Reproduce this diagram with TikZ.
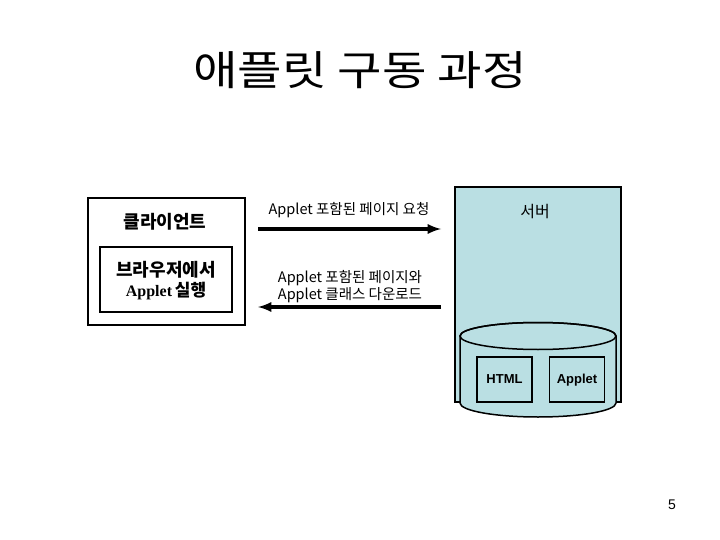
\documentclass[tikz,border=0pt]{standalone}
\usepackage{fontspec}
\setmainfont{Liberation Sans}
\newfontfamily\kr{Noto Sans CJK KR}
\newfontfamily\tms{Liberation Serif}
\usetikzlibrary{positioning}
\definecolor{serverblue}{RGB}{186,223,227}
\tikzset{
  box/.style={draw, line width=2pt, fill=white},
  store/.style={draw, line width=1.5pt, fill=serverblue, minimum width=55pt, minimum height=45pt,
    text height=10pt, text depth=3pt, font=\fontsize{13}{13}\selectfont\bfseries},
  msg/.style={line width=3.5pt, -latex},
  lbl/.style={font=\kr\fontsize{14.5}{17}\selectfont, align=center}
}
\begin{document}
\begin{tikzpicture}[x=1pt,y=-1pt]
   \useasboundingbox (0,0) rectangle (720,540);
   % title
   \node (title) at (360,70) {\kr\fontsize{41}{41}\selectfont\scalebox{1.18}[1]{애플릿 구동 과정}};
   % client side
   \node[box, minimum width=157pt, minimum height=127pt] (client) at (166,261.5) {};
   \node[box, minimum width=132pt, minimum height=65pt] (browser) at (166,279.5) {};
   \node (clientname) at (165,222) {\kr\bfseries\fontsize{18}{18}\selectfont 클라이언트};
   \node[inner sep=0pt] (run) at (166,270) {\kr\bfseries\fontsize{18}{18}\selectfont 브라우저에서};
   \node[inner sep=0pt] (runapplet) at (166,291)
      {{\tms\bfseries\fontsize{16}{16}\selectfont Applet} \kr\bfseries\fontsize{17}{17}\selectfont 실행};
   % server side
   \node[draw, line width=2pt, fill=serverblue, minimum width=166pt, minimum height=215pt] (server) at (538,294.5) {};
   \node (servername) at (535,212) {\kr\fontsize{16}{16}\selectfont 서버};
   \draw[line width=1.5pt, fill=serverblue] (460,336) -- (460,403) arc[start angle=180, end angle=0, x radius=78, y radius=14]
      -- (616,336) arc[start angle=0, end angle=-180, x radius=78, y radius=13.5] -- cycle;
   \draw[line width=1.5pt] (538,336) ellipse[x radius=78, y radius=13.5];
   \node[store] (html) at (504.5,379.5) {HTML};
   \node[store] (applet) at (577,379.5) {Applet};
   % messages
   \coordinate (reqstart) at (258,229);
   \coordinate (reqend) at (441,229);
   \coordinate (resstart) at (441,307);
   \coordinate (resend) at (258,307);
   \draw[msg] (reqstart) -- (reqend);
   \draw[msg] (resstart) -- (resend);
   \node[lbl] (reqlbl) at (349,210) {Applet 포함된 페이지 요청};
   \node[lbl] (reslbl) at (350,287) {Applet 포함된 페이지와\\Applet 클래스 다운로드};
   % page number
   \node (page) at (672,505) {\fontsize{14}{14}\selectfont 5};
\end{tikzpicture}
\end{document}
